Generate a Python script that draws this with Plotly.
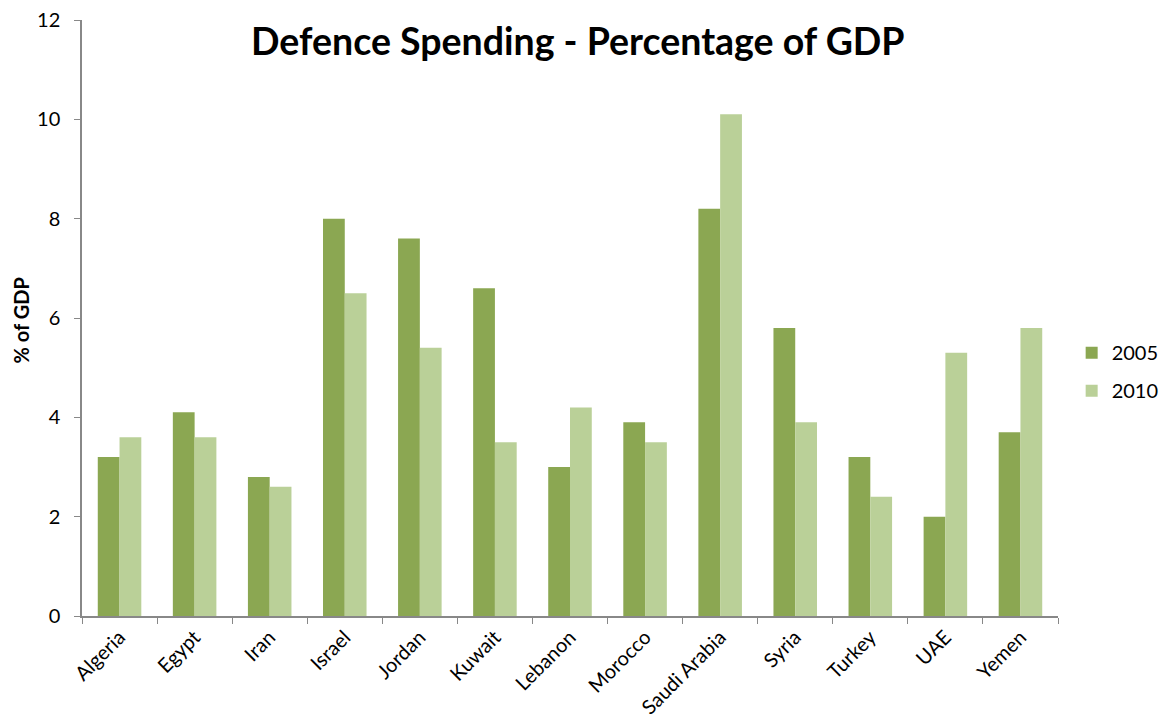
import plotly.graph_objects as go

countries = ["Algeria", "Egypt", "Iran", "Israel", "Jordan", "Kuwait", "Lebanon",
             "Morocco", "Saudi Arabia", "Syria", "Turkey", "UAE", "Yemen"]
spend_2005 = [3.2, 4.1, 2.8, 8.0, 7.6, 6.6, 3.0, 3.9, 8.2, 5.8, 3.2, 2.0, 3.7]
spend_2010 = [3.6, 3.6, 2.6, 6.5, 5.4, 3.5, 4.2, 3.5, 10.1, 3.9, 2.4, 5.3, 5.8]

FONT = "Lato, 'Open Sans', sans-serif"
W, H = 1156, 711

fig = go.Figure()
fig.add_trace(go.Bar(x=countries, y=spend_2005, name="2005", marker_color="#8BA752",
                     marker_line_width=0, legendgroup="a"))
fig.add_trace(go.Bar(x=countries, y=spend_2010, name="2010", marker_color="#BAD098",
                     marker_line_width=0, legendgroup="b"))

fig.update_layout(
    width=W, height=H,
    paper_bgcolor="white", plot_bgcolor="white",
    margin=dict(l=74, r=106, t=12, b=103, autoexpand=False),
    barmode="group", bargap=0.42, bargroupgap=0,
    font=dict(family=FONT, size=20, color="black"),
    title=dict(text="<b>Defence Spending - Percentage of GDP</b>", x=0.508, xanchor="center",
               xref="paper", y=1 - 34 / H, yref="container", yanchor="middle",
               font=dict(size=37.5, family=FONT, color="black"), automargin=False),
    legend=dict(x=1.014, y=0.41, xanchor="left", yanchor="middle", tracegroupgap=9,
                font=dict(size=20), itemwidth=30),
    showlegend=True,
    annotations=[dict(text="<b>% of GDP</b>", xref="paper", yref="paper", x=-0.063, y=0.495,
                      xanchor="center", yanchor="middle", textangle=-90, showarrow=False,
                      font=dict(size=20, color="black"))],
)
fig.update_xaxes(showline=True, linecolor="#888888", linewidth=1.5, ticks="outside",
                 tickson="boundaries", ticklen=6, tickcolor="#888888", tickangle=-45,
                 showgrid=False, tickfont=dict(size=20), automargin=False,
                 ticklabeloverflow="allow")
fig.update_yaxes(range=[0, 12], dtick=2, showline=True, linecolor="#888888", linewidth=1.5,
                 ticks="outside", ticklen=6, tickcolor="#888888", showgrid=False, zeroline=False,
                 tickfont=dict(size=20), automargin=False, ticklabeloverflow="allow",
                 ticksuffix="\u2002")

fig.write_html("out.html")
